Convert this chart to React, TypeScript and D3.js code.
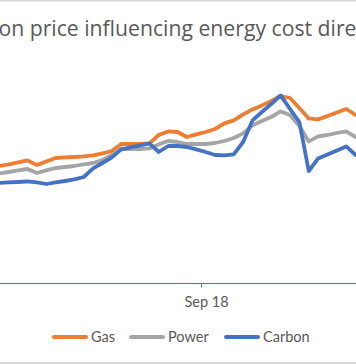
import React, { useLayoutEffect, useRef, useState } from "react";
import * as d3 from "d3";

const dates = [
  "2018-03-28", "2018-04-04", "2018-04-11", "2018-04-18", "2018-04-25",
  "2018-05-02", "2018-05-09", "2018-05-16", "2018-05-23", "2018-05-30",
  "2018-06-06", "2018-06-13", "2018-06-20", "2018-06-27", "2018-07-04",
  "2018-07-11", "2018-07-18", "2018-07-25", "2018-08-01", "2018-08-08",
  "2018-08-15", "2018-08-22", "2018-08-29", "2018-09-05", "2018-09-12",
  "2018-09-19", "2018-09-26", "2018-10-03", "2018-10-10", "2018-10-17",
  "2018-10-24", "2018-10-31", "2018-11-07", "2018-11-14", "2018-11-21",
  "2018-11-28", "2018-12-05", "2018-12-12", "2018-12-19", "2018-12-26",
  "2019-01-02",
];

const gas = [
  57.5, 58.5, 59.3, 60.3, 61.3, 59, 60.8, 62.5, 62.8, 63, 63.3, 63.8, 64.8,
  66, 69.5, 69.5, 69.5, 69.8, 74, 75.8, 75.5, 73, 74.3, 75.5, 77, 79.8, 81.3,
  84.3, 86.8, 88.8, 91, 93.5, 92.5, 87.5, 82.3, 81.8, 83.5, 85.3, 87, 84, 82.5,
];

const power = [
  54, 54.8, 55.5, 56.3, 57, 55, 56.3, 57.5, 58, 58.5, 59.3, 60, 61.5, 64, 67,
  67, 67, 67.3, 69.3, 71, 70.5, 69.5, 69.5, 69.5, 70, 71, 72.5, 74.8, 78.8,
  81, 83, 85.8, 84, 78.5, 70.8, 73.3, 74, 75, 75.8, 73, 71.5,
];

const carbon = [
  49.8, 50, 50.3, 50.5, 50.8, 50.3, 49.5, 50.3, 51, 51.8, 53, 57.3, 60, 62.8,
  66.8, 67.8, 68.8, 69.8, 65.5, 68.5, 68.5, 68, 66.8, 65.5, 64, 63.8, 64.3,
  70.5, 81.3, 85.5, 89.5, 93.8, 87, 80.5, 56, 62.3, 64.3, 66.3, 68.3, 64, 61.5,
];

const seriesNames = ["Gas", "Power", "Carbon"];
const seriesColors = ["#ED7D31", "#A5A5A5", "#4472C4"];
const tickDates = ["2018-09-01"];
const tickLabels = ["Sep 18"];
const titleText = "Carbon price influencing energy cost direction";
const titleHidden = "Carb";

const W = 356;
const H = 364;
const FONT = "Lato, 'Open Sans', 'Liberation Sans', sans-serif";
const TITLE_FONT = "'Open Sans', Lato, 'Liberation Sans', sans-serif";

export default function App() {
  const parse = d3.utcParse("%Y-%m-%d");
  const xDates = dates.map((d) => parse(d) as Date);
  const x = d3
    .scaleUtc()
    .domain([xDates[0], xDates[xDates.length - 1]])
    .range([-10, 365]);
  const y = d3.scaleLinear().domain([0, 100]).range([283, 83]);

  const allSeries = [gas, power, carbon];
  const line = d3
    .line<number>()
    .x((_, i) => x(xDates[i]))
    .y((v) => y(v));

  const prefixRef = useRef<SVGTSpanElement>(null);
  const [titleX, setTitleX] = useState(-46);
  useLayoutEffect(() => {
    if (prefixRef.current) {
      const w = prefixRef.current.getComputedTextLength();
      setTitleX(-1.5 - w);
    }
  }, []);

  const axisY = y(0);
  const legendX = [52, 129, 224];
  const legendY = 337;

  return (
    <svg
      width={W}
      height={H}
      style={{ position: "absolute", left: 0, top: 0, background: "#fff" }}
      fontFamily={FONT}
    >
      <rect x={0} y={0} width={W} height={H} fill="#ffffff" />
      <rect x={0} y={0} width={W} height={1.5} fill="#D9D9D9" />
      <rect x={0} y={362} width={W} height={2} fill="#D9D9D9" />
      <text x={titleX} y={36} fontSize={21.2} fill="#595959" fontFamily={TITLE_FONT}>
        <tspan ref={prefixRef}>{titleHidden}</tspan>
        <tspan>{titleText.slice(titleHidden.length)}</tspan>
      </text>

      {allSeries.map((s, k) => (
        <path
          key={seriesNames[k]}
          d={line(s) || ""}
          fill="none"
          stroke={seriesColors[k]}
          strokeWidth={3.8}
          strokeLinejoin="round"
          strokeLinecap="round"
        />
      ))}

      <line x1={0} x2={W} y1={axisY + 0.5} y2={axisY + 0.5} stroke="#4472C4" strokeWidth={1} />
      {tickDates.map((t, i) => {
        const tx = Math.round(x(parse(t) as Date)) + 1.5;
        return (
          <g key={t}>
            <line x1={tx} x2={tx} y1={axisY} y2={axisY + 4.5} stroke="#4472C4" strokeWidth={1} />
            <text x={tx + 5} y={307} fontSize={14.5} fill="#595959" textAnchor="middle">
              {tickLabels[i]}
            </text>
          </g>
        );
      })}

      {seriesNames.map((n, k) => (
        <g key={n}>
          <line
            x1={legendX[k] + 2}
            x2={legendX[k] + 34}
            y1={legendY}
            y2={legendY}
            stroke={seriesColors[k]}
            strokeWidth={4}
            strokeLinecap="round"
          />
          <text x={legendX[k] + 39} y={legendY + 5} fontSize={14.5} fill="#595959">
            {n}
          </text>
        </g>
      ))}
    </svg>
  );
}
